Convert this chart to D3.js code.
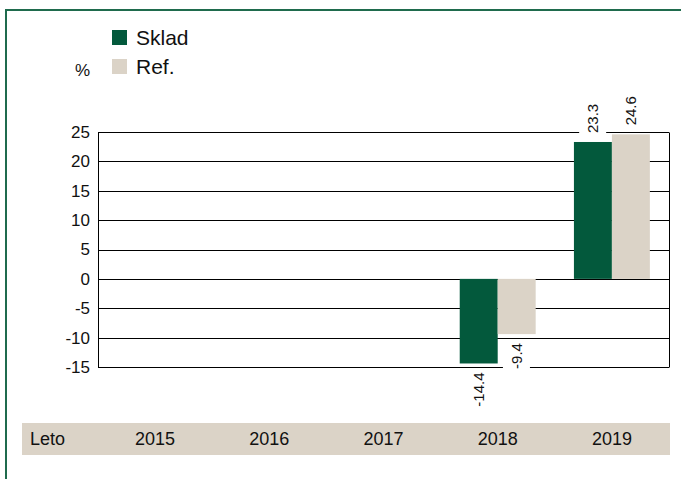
<!DOCTYPE html>
<html>
<head>
<meta charset="utf-8">
<script src="https://cdn.jsdelivr.net/npm/d3@7"></script>
<style>
  html, body { margin: 0; padding: 0; background: #fff; }
  svg { display: block; font-family: "Liberation Sans", Arial, sans-serif; }
</style>
</head>
<body>
<svg id="chart" width="681" height="479"></svg>
<script>
// Years along the category axis
const years = ["2015", "2016", "2017", "2018", "2019"];
// Series values in %, null where there is no observation
const sklad = [null, null, null, -14.4, 23.3];
const ref = [null, null, null, -9.4, 24.6];
const seriesNames = ["Sklad", "Ref."];
const yTicks = [-15, -10, -5, 0, 5, 10, 15, 20, 25];
const unitLabel = "%";
const axisTitle = "Leto";

const colors = { "Sklad": "#03593c", "Ref.": "#dbd3c7" };

// Plain hyphen for negatives
const fmtInt = d => String(d);
const fmtVal = d => d.toFixed(1);

const svg = d3.select("#chart");
const W = 681, H = 479;
const plot = { left: 98, right: 669, top: 132, bottom: 367 };

// Outer frame: green rule along the top and left edges
svg.append("path")
  .attr("d", `M6,${H} V10 H${W}`)
  .attr("fill", "none")
  .attr("stroke", "#1f6b4d")
  .attr("stroke-width", 2);

const x0 = d3.scaleBand()
  .domain(years)
  .range([plot.left, plot.right])
  .paddingInner(0.335)
  .paddingOuter(0.1675);

const x1 = d3.scaleBand()
  .domain(seriesNames)
  .range([0, x0.bandwidth()]);

const y = d3.scaleLinear()
  .domain([-15, 25])
  .range([plot.bottom, plot.top]);

// Left tick labels
const yAxis = d3.axisLeft(y)
  .tickValues(yTicks)
  .tickSize(0)
  .tickPadding(8)
  .tickFormat(fmtInt);

const gAxis = svg.append("g")
  .attr("transform", `translate(${plot.left},0)`)
  .call(yAxis);
gAxis.select(".domain").remove();
gAxis.selectAll("text")
  .attr("font-size", 17)
  .attr("fill", "#111")
  .attr("font-family", "Liberation Sans, Arial, sans-serif");

// Horizontal gridlines
svg.append("g")
  .selectAll("line")
  .data(yTicks)
  .join("line")
  .attr("x1", plot.left)
  .attr("x2", plot.right)
  .attr("y1", d => Math.round(y(d)) + 0.5)
  .attr("y2", d => Math.round(y(d)) + 0.5)
  .attr("stroke", "#000")
  .attr("stroke-width", 1);

// Vertical sides of the plot box
svg.append("g")
  .selectAll("line")
  .data([plot.left, plot.right])
  .join("line")
  .attr("x1", d => d + 0.5)
  .attr("x2", d => d + 0.5)
  .attr("y1", Math.round(y(25)) + 0.5)
  .attr("y2", Math.round(y(-15)) + 0.5)
  .attr("stroke", "#000");

// Bars
const rows = years.map((yr, i) => ({
  year: yr,
  values: [
    { key: "Sklad", value: sklad[i] },
    { key: "Ref.", value: ref[i] }
  ]
}));

const groups = svg.append("g")
  .selectAll("g")
  .data(rows)
  .join("g")
  .attr("transform", d => `translate(${x0(d.year)},0)`);

groups.selectAll("rect")
  .data(d => d.values.filter(v => v.value !== null))
  .join("rect")
  .attr("x", d => x1(d.key))
  .attr("width", x1.bandwidth())
  .attr("y", d => y(Math.max(0, d.value)))
  .attr("height", d => Math.abs(y(d.value) - y(0)))
  .attr("fill", d => colors[d.key]);

// Rotated value labels on white boxes
const labelLayer = svg.append("g");
rows.forEach(r => {
  r.values.filter(v => v.value !== null).forEach(v => {
    const cx = x0(r.year) + x1(v.key) + x1.bandwidth() / 2;
    const pos = v.value >= 0;
    const yy = pos ? y(v.value) - 9 : y(v.value) + 9;
    const g = labelLayer.append("g")
      .attr("transform", `translate(${cx},${yy}) rotate(-90)`);
    const bg = g.append("rect").attr("fill", "#fff");
    const t = g.append("text")
      .attr("x", 0)
      .attr("y", 0)
      .attr("dy", "0.35em")
      .attr("text-anchor", pos ? "start" : "end")
      .attr("font-size", 15)
      .attr("fill", "#111")
      .text(fmtVal(v.value));
    const b = t.node().getBBox();
    bg.attr("x", b.x - 2).attr("y", b.y - 5)
      .attr("width", b.width + 4).attr("height", b.height + 10);
  });
});

// Legend
const legend = svg.append("g");
seriesNames.forEach((name, i) => {
  const ly = 30 + i * 29;
  legend.append("rect")
    .attr("x", 112).attr("y", ly)
    .attr("width", 15).attr("height", 15)
    .attr("fill", colors[name]);
  legend.append("text")
    .attr("x", 136).attr("y", ly + 7.5)
    .attr("dy", "0.36em")
    .attr("font-size", 21)
    .attr("fill", "#111")
    .text(name);
});
svg.append("text")
  .attr("x", 75).attr("y", 70)
  .attr("dy", "0.36em")
  .attr("font-size", 17)
  .attr("fill", "#111")
  .text(unitLabel);

// Category strip along the bottom
svg.append("rect")
  .attr("x", 22).attr("y", 423)
  .attr("width", 648).attr("height", 32)
  .attr("fill", "#dbd3c7");
svg.append("text")
  .attr("x", 30).attr("y", 439)
  .attr("dy", "0.36em")
  .attr("font-size", 18)
  .attr("fill", "#111")
  .text(axisTitle);
svg.append("g")
  .selectAll("text")
  .data(years)
  .join("text")
  .attr("x", d => x0(d) + x0.bandwidth() / 2)
  .attr("y", 439)
  .attr("dy", "0.36em")
  .attr("text-anchor", "middle")
  .attr("font-size", 18)
  .attr("fill", "#111")
  .text(d => d);
</script>
</body>
</html>
